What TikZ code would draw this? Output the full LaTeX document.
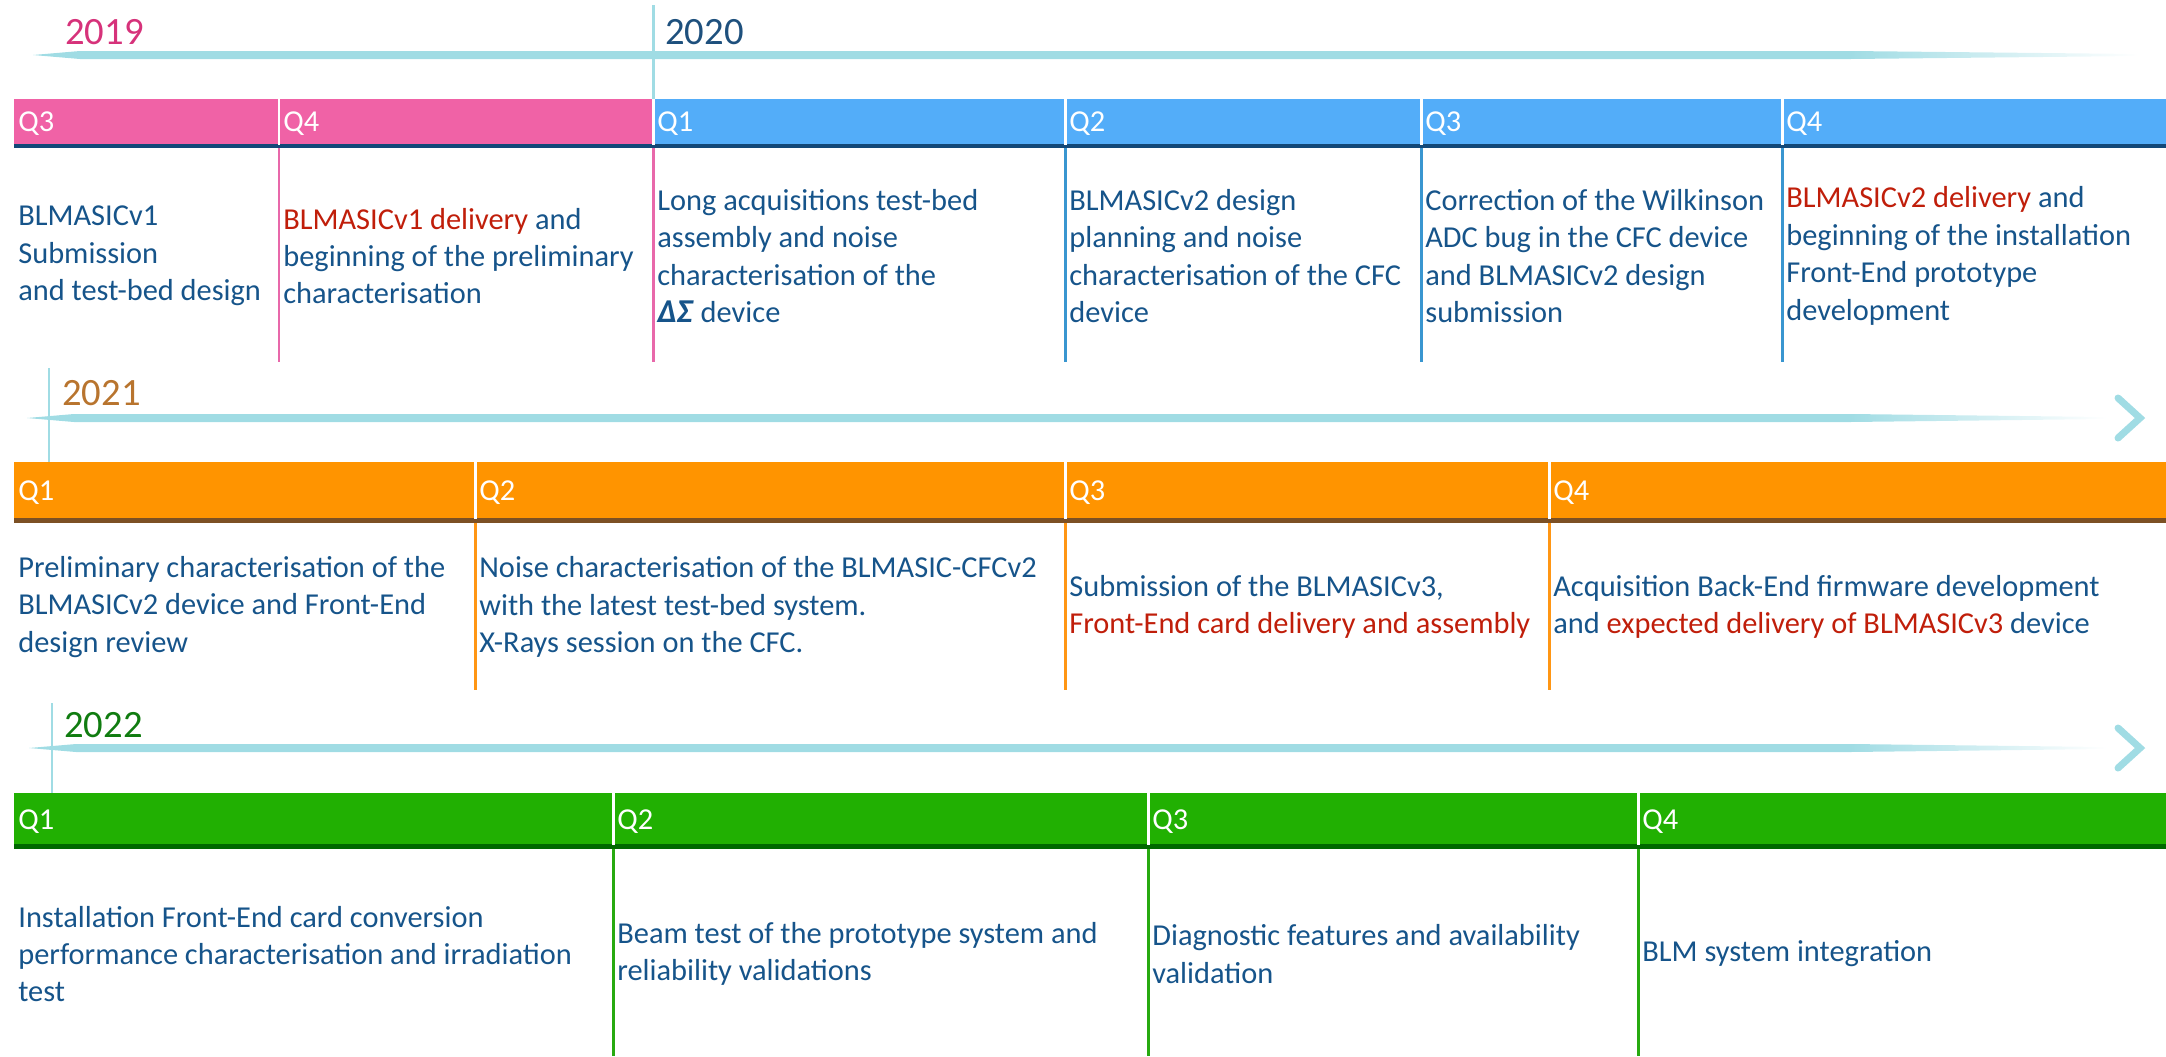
\documentclass[tikz,border=0pt]{standalone}
\usepackage{fontspec}
\setmainfont{Carlito}
\usetikzlibrary{fadings}

\definecolor{pinkbar}{RGB}{240,98,166}
\definecolor{bluebar}{RGB}{83,173,249}
\definecolor{orangebar}{RGB}{255,148,0}
\definecolor{greenbar}{RGB}{33,176,2}
\definecolor{navyline}{RGB}{18,72,120}
\definecolor{brownline}{RGB}{124,80,36}
\definecolor{greenline}{RGB}{0,104,0}
\definecolor{pinkrule}{RGB}{232,104,170}
\definecolor{bluerule}{RGB}{57,150,208}
\definecolor{orangerule}{RGB}{255,150,20}
\definecolor{greenrule}{RGB}{40,170,16}
\definecolor{txtblue}{RGB}{22,84,138}
\definecolor{txtred}{RGB}{192,30,10}
\definecolor{arrowcyan}{RGB}{160,220,228}
\definecolor{yr2019}{RGB}{214,50,122}
\definecolor{yr2020}{RGB}{30,80,125}
\definecolor{yr2021}{RGB}{184,116,46}
\definecolor{yr2022}{RGB}{16,124,16}

\newcommand{\redtxt}[1]{\textcolor{txtred}{#1}}

\tikzset{
	qlab/.style={anchor=west, text=white, inner sep=0pt},
	task/.style={anchor=west, align=left, text=txtblue, inner sep=0pt},
	yearlab/.style={anchor=west, inner sep=0pt, font=\fontsize{22}{26}\selectfont},
	divider/.style={white, line width=1.7pt},
	marker/.style={arrowcyan, line width=1.7pt},
}

\begin{document}
\begin{tikzpicture}[x=0.02cm, y=-0.02cm, font=\fontsize{17.3}{21.3}\selectfont]
	\useasboundingbox (0,0) rectangle (2166,1056);
	
	%%% 2019 - 2020
	\draw[marker] (653,5) -- (653,99);
	\node[yearlab, text=yr2019] (y2019) at (65,32) {2019};
	\node[yearlab, text=yr2020] (y2020) at (665,32) {2020};
	\fill[arrowcyan] (33,55) -- (80,51) -- (1850,51) -- (1850,59) -- (80,59) -- cycle;
	\fill[arrowcyan, path fading=east] (1850,51) -- (2138,54) -- (2138,56) -- (1850,59) -- cycle;
	
	\fill[pinkbar] (14,99) rectangle (653,145);
	\fill[bluebar] (653,99) rectangle (2166,145);
	\fill[navyline] (14,144) rectangle (2166,148);
	\draw[divider] (279,99) -- (279,145);
	\draw[divider] (653,99) -- (653,145);
	\draw[divider] (1065,99) -- (1065,145);
	\draw[divider] (1421,99) -- (1421,145);
	\draw[divider] (1782,99) -- (1782,145);
	\draw[pinkrule, line width=1.7pt] (279,148) -- (279,362);
	\draw[pinkrule, line width=1.7pt] (653,148) -- (653,362);
	\draw[bluerule, line width=1.7pt] (1065,148) -- (1065,362);
	\draw[bluerule, line width=1.7pt] (1421,148) -- (1421,362);
	\draw[bluerule, line width=1.7pt] (1782,148) -- (1782,362);
	
	\node[qlab] (a19q3) at (18,124) {Q3};
	\node[qlab] (a19q4) at (283,124) {Q4};
	\node[qlab] (a20q1) at (657,124) {Q1};
	\node[qlab] (a20q2) at (1069,124) {Q2};
	\node[qlab] (a20q3) at (1425,124) {Q3};
	\node[qlab] (a20q4) at (1786,124) {Q4};
	
	\node[task] (t19q3) at (18,256) {BLMASICv1\\Submission\\and test-bed design};
	\node[task] (t19q4) at (283,256) {\redtxt{BLMASICv1 delivery} and\\beginning of the preliminary\\characterisation};
	\node[task] (t20q1) at (657,256) {Long acquisitions test-bed\\assembly and noise\\characterisation of the\\{\fontsize{19}{21.3}\selectfont\textbf{\textit{ΔΣ}}} device};
	\node[task] (t20q2) at (1069,256) {BLMASICv2 design\\planning and noise\\characterisation of the CFC\\device};
	\node[task] (t20q3) at (1425,256) {Correction of the Wilkinson\\ADC bug in the CFC device\\and BLMASICv2 design\\submission};
	\node[task] (t20q4) at (1786,256) {\redtxt{BLMASICv2 delivery} and\\beginning of the installation\\Front-End prototype\\development};
	
	%%% 2021
	\draw[marker] (49,368) -- (49,462);
	\node[yearlab, text=yr2021] (y2021) at (62,393) {2021};
	\fill[arrowcyan] (27,418) -- (74,414) -- (1850,414) -- (1850,422) -- (74,422) -- cycle;
	\fill[arrowcyan, path fading=east] (1850,414) -- (2106,417) -- (2106,419) -- (1850,422) -- cycle;
	\draw[arrowcyan, line width=4pt, line cap=round] (2118,398) -- (2140,418) -- (2118,438);
	
	\fill[orangebar] (14,462) rectangle (2166,519);
	\fill[brownline] (14,518) rectangle (2166,523);
	\draw[divider] (475,462) -- (475,519);
	\draw[divider] (1065,462) -- (1065,519);
	\draw[divider] (1549,462) -- (1549,519);
	\draw[orangerule, line width=1.7pt] (475,523) -- (475,690);
	\draw[orangerule, line width=1.7pt] (1065,523) -- (1065,690);
	\draw[orangerule, line width=1.7pt] (1549,523) -- (1549,690);
	
	\node[qlab] (a21q1) at (18,493) {Q1};
	\node[qlab] (a21q2) at (479,493) {Q2};
	\node[qlab] (a21q3) at (1069,493) {Q3};
	\node[qlab] (a21q4) at (1553,493) {Q4};
	
	\node[task] (t21q1) at (18,607) {Preliminary characterisation of the\\BLMASICv2 device and Front-End\\design review};
	\node[task] (t21q2) at (479,607) {Noise characterisation of the BLMASIC-CFCv2\\with the latest test-bed system.\\X-Rays session on the CFC.};
	\node[task] (t21q3) at (1069,607) {Submission of the BLMASICv3,\\\redtxt{Front-End card delivery and assembly}};
	\node[task] (t21q4) at (1553,607) {Acquisition Back-End firmware development\\and \redtxt{expected delivery of BLMASICv3} device};
	
	%%% 2022
	\draw[marker] (52,703) -- (52,793);
	\node[yearlab, text=yr2022] (y2022) at (64,725) {2022};
	\fill[arrowcyan] (29,748) -- (76,744) -- (1850,744) -- (1850,752) -- (76,752) -- cycle;
	\fill[arrowcyan, path fading=east] (1850,744) -- (2106,747) -- (2106,749) -- (1850,752) -- cycle;
	\draw[arrowcyan, line width=4pt, line cap=round] (2118,728) -- (2140,748) -- (2118,768);
	
	\fill[greenbar] (14,793) rectangle (2166,845);
	\fill[greenline] (14,844) rectangle (2166,849);
	\draw[divider] (613,793) -- (613,845);
	\draw[divider] (1148,793) -- (1148,845);
	\draw[divider] (1638,793) -- (1638,845);
	\draw[greenrule, line width=1.7pt] (613,849) -- (613,1056);
	\draw[greenrule, line width=1.7pt] (1148,849) -- (1148,1056);
	\draw[greenrule, line width=1.7pt] (1638,849) -- (1638,1056);
	
	\node[qlab] (a22q1) at (18,822) {Q1};
	\node[qlab] (a22q2) at (617,822) {Q2};
	\node[qlab] (a22q3) at (1152,822) {Q3};
	\node[qlab] (a22q4) at (1642,822) {Q4};
	
	\node[task] (t22q1) at (18,954) {Installation Front-End card conversion\\performance characterisation and irradiation\\test};
	\node[task] (t22q2) at (617,954) {Beam test of the prototype system and\\reliability validations};
	\node[task] (t22q3) at (1152,954) {Diagnostic features and availability\\validation};
	\node[task] (t22q4) at (1642,954) {BLM system integration};
\end{tikzpicture}
\end{document}
